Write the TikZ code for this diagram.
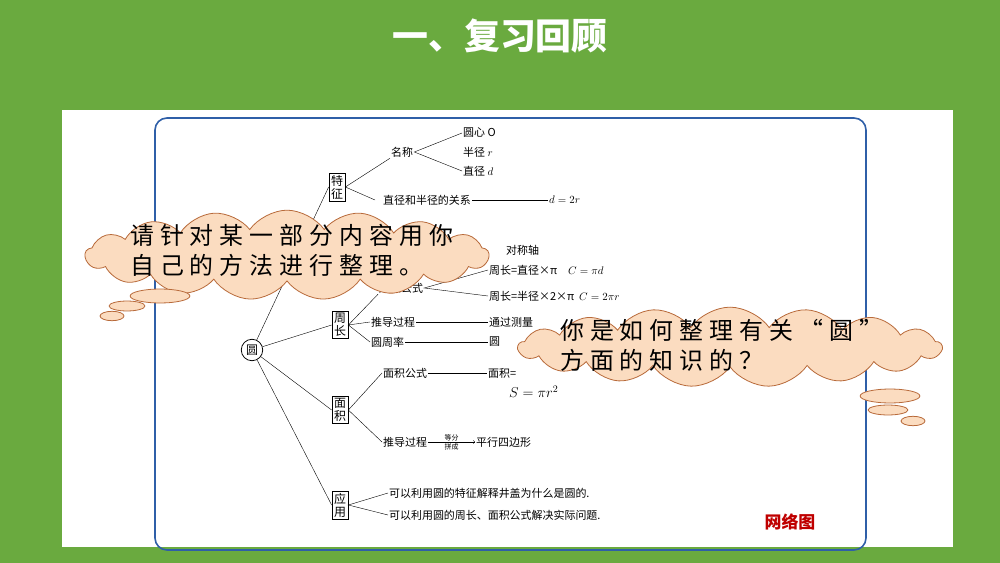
\documentclass[tikz,border=0pt]{standalone}
\usepackage{fontspec}
\newfontfamily\cjk{Noto Sans CJK SC}
\newfontfamily\cjkwide[LetterSpace=25]{Noto Sans CJK SC}
\usetikzlibrary{shapes.symbols,shapes.geometric,positioning}
\definecolor{bggreen}{HTML}{6AAA3F}
\definecolor{frameblue}{HTML}{2F5FA8}
\definecolor{cloudfill}{HTML}{FBDCC0}
\definecolor{cloudline}{HTML}{B86A3A}
\tikzset{
  box/.style={draw,thick,inner sep=2pt,font=\cjk\fontsize{12}{13}\selectfont,align=center},
  txt/.style={font=\cjk\fontsize{11}{12}\selectfont,anchor=west,inner sep=1pt},
  talk/.style={cloud,cloud puffs=17,cloud puff arc=110,aspect=4.5,draw=cloudline,thick,fill=cloudfill},
  talktext/.style={font=\cjkwide\fontsize{24}{30}\selectfont,align=left,anchor=west,inner sep=0pt},
  puff/.style={ellipse,draw=cloudline,thick,fill=cloudfill}
}
\begin{document}
\begin{tikzpicture}[x=1bp,y=-1bp]
\useasboundingbox (0,0) rectangle (1000,563);
\fill[bggreen] (0,0) rectangle (1000,563);
\node[text=white,font=\cjk\bfseries\fontsize{36}{38}\selectfont] (title) at (500,36) {一、复习回顾};
\fill[white] (62,110) rectangle (953,547);
\draw[frameblue,line width=1.6pt,rounded corners=12] (155,118) rectangle (866,550);
% mind map
\node[draw,thick,circle,inner sep=2pt,font=\cjk\fontsize{12}{13}\selectfont] (yuan) at (252,350) {圆};
\node[box] (tz) at (337,187) {特\\征};
\node[box] (zc) at (340,325) {周\\长};
\node[box] (mj) at (340,410) {面\\积};
\node[box] (yy) at (340,505) {应\\用};
\foreach \b in {tz,zc,mj,yy} \draw (yuan) -- (\b.west);
% 特征
\node[txt] (mc) at (390,152) {名称};
\node[txt] (yx) at (462,133) {圆心\ O};
\node[txt] (bj) at (462,152) {半径\ $r$};
\node[txt] (zj) at (462,171) {直径\ $d$};
\draw (tz.east) -- (mc.south west) (tz.east) -- (375,200);
\draw (yx.west) -- (mc.east) -- (zj.west);
\node[txt] (gx) at (382,200) {直径和半径的关系};
\node[txt] (gx2) at (548,200) {$d=2r$};
\draw (gx.east) -- (gx2.west);
\node[txt] (dc) at (505,250) {对称轴};
\node[txt] (zcgs) at (378,288) {周长公式};
\node[txt] (c1) at (488,270) {周长=直径×π\quad $C=\pi d$};
\node[txt] (c2) at (488,296) {周长=半径×2×π\ \ $C=2\pi r$};
\draw (c1.west) -- (zcgs.east) -- (c2.west);
% 周长
\node[txt] (tdzc) at (370,322) {推导过程};
\node[txt] (clz) at (488,322) {通过测量};
\node[txt] (zlv) at (370,342) {圆周率};
\node[txt] (zlv2) at (488,342) {圆};
\draw (tdzc.east) -- (clz.west) (zlv.east) -- (zlv2.west);
\draw (zcgs.south west) -- (zc.east) -- (tdzc.west) (zc.east) -- (zlv.west);
% 面积
\node[txt] (mjgs) at (382,373) {面积公式};
\node[txt] (mjs) at (487,373) {面积=};
\node[txt,font=\fontsize{14}{15}\selectfont] (sf) at (508,392) {$S=\pi r^2$};
\draw (mjgs.east) -- (mjs.west);
\node[txt] (tdmj) at (382,442) {推导过程};
\node[txt] (pxs) at (475,442) {平行四边形};
\draw[->] (tdmj.east) -- node[above,font=\cjk\fontsize{7}{7}\selectfont,inner sep=1pt] {等分} node[below,font=\cjk\fontsize{7}{7}\selectfont,inner sep=1pt] {拼成} (pxs.west);
\draw (mjgs.west) -- (mj.east) -- (tdmj.west);
% 应用
\node[txt] (yy1) at (388,493) {可以利用圆的特征解释井盖为什么是圆的.};
\node[txt] (yy2) at (388,515) {可以利用圆的周长、面积公式解决实际问题.};
\draw (yy1.west) -- (yy.east) -- (yy2.west);
\node[text=red!75!black,font=\cjk\bfseries\fontsize{17}{18}\selectfont] (wl) at (790,522) {网络图};
% clouds
\node[talk,minimum width=405,minimum height=90] (q1) at (287,255) {};
\node[talktext] (t1) at (130,250) {请针对某一部分内容用你\\自己的方法进行整理。};
\node[puff,minimum width=60,minimum height=14] (p1) at (160,296) {};
\node[puff,minimum width=36,minimum height=10] (p2) at (127,306) {};
\node[puff,minimum width=24,minimum height=7] (p3) at (112,316) {};
\node[talk,minimum width=425,minimum height=80] (q2) at (730,347) {};
\node[talktext] (t2) at (560,345) {你是如何整理有关“圆”\\方面的知识的？};
\node[puff,minimum width=60,minimum height=14] (p4) at (890,396) {};
\node[puff,minimum width=40,minimum height=10] (p5) at (888,410) {};
\node[puff,minimum width=24,minimum height=7] (p6) at (913,421) {};
\end{tikzpicture}
\end{document}
